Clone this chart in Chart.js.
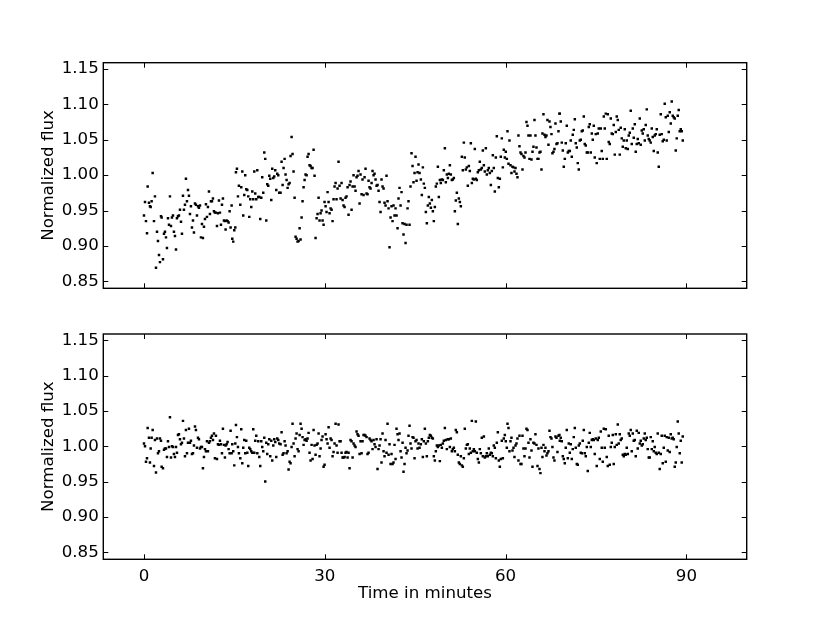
<!DOCTYPE html>
<html>
<head>
<meta charset="utf-8">
<script src="https://cdn.jsdelivr.net/npm/chart.js@4.4.1/dist/chart.umd.min.js"></script>
<style>
  html, body { margin: 0; padding: 0; background: #fff; }
  #wrap { position: relative; width: 830px; height: 623px; }
  canvas { position: absolute; left: 0; }
  #top { top: 0; }
  #bottom { top: 311px; }
</style>
</head>
<body>
<div id="wrap">
  <canvas id="top" width="830" height="311"></canvas>
  <canvas id="bottom" width="830" height="312"></canvas>
</div>
<script>
// time of each exposure, minutes
const minutes = [
  0.00,0.17,0.33,0.50,0.61,0.83,0.99,1.11,1.27,1.44,
  1.66,1.82,1.99,2.16,2.32,2.49,2.65,2.82,2.93,3.15,
  3.32,3.48,3.65,3.81,3.98,4.15,4.31,4.48,4.64,4.81,
  4.97,5.14,5.31,5.47,5.64,5.80,5.97,6.14,6.30,6.47,
  6.63,6.80,6.96,7.13,7.30,7.46,7.63,7.79,7.96,8.13,
  8.29,8.46,8.62,8.79,8.96,9.12,9.29,9.45,9.62,9.78,
  9.95,10.12,10.28,10.45,10.61,10.78,10.94,11.11,11.28,11.44,
  11.61,11.77,11.94,12.11,12.27,12.44,12.60,12.77,12.94,13.10,
  13.27,13.43,13.54,13.71,13.87,14.04,14.21,14.37,14.54,14.65,
  14.81,14.98,15.15,15.26,15.42,15.59,15.75,15.98,16.14,16.31,
  16.47,16.64,16.80,16.97,17.14,17.30,17.47,17.63,17.80,17.97,
  18.13,18.30,18.46,18.63,18.80,18.96,19.13,19.29,19.46,19.62,
  19.79,19.96,20.12,20.29,20.45,20.62,20.79,20.95,21.12,21.28,
  21.45,21.61,21.78,21.95,22.11,22.28,22.44,
  22.66,22.83,23.00,23.16,23.33,23.49,23.66,23.83,23.99,24.16,
  24.32,24.49,24.65,24.82,24.99,25.15,25.32,25.48,25.65,25.82,
  25.98,26.15,26.31,26.48,26.65,26.81,26.98,27.14,27.31,27.47,
  27.64,27.81,27.97,28.14,28.30,28.47,28.64,28.80,28.97,29.13,
  29.30,29.46,29.63,29.80,29.96,30.13,30.29,30.46,30.63,30.79,
  30.96,31.12,31.29,31.45,31.62,31.79,31.95,32.12,32.28,32.45,
  32.62,32.78,32.95,33.11,33.28,33.44,33.61,33.78,33.94,34.11,
  34.27,34.44,34.61,34.77,34.94,35.10,35.27,35.43,35.60,35.77,
  35.93,36.10,36.26,36.43,36.60,36.76,36.93,37.09,37.26,37.42,
  37.59,37.76,37.92,38.09,38.25,38.42,38.59,38.75,38.92,39.08,
  39.25,39.41,39.58,39.75,39.91,40.08,40.24,40.41,40.58,40.74,
  40.91,41.07,41.24,41.40,41.57,41.74,41.90,42.07,42.23,42.40,
  42.57,42.73,42.90,43.06,43.23,43.40,43.56,43.73,43.89,44.06,
  44.22,44.39,44.56,44.72,44.89,45.05,45.22,45.39,45.55,45.72,
  45.94,46.10,46.27,46.43,46.60,46.77,46.93,47.10,47.26,47.43,
  47.60,47.76,47.93,48.09,48.26,48.42,48.59,48.76,48.92,49.09,
  49.25,49.42,49.59,49.75,49.92,50.08,50.25,50.42,50.58,50.75,
  50.91,51.08,51.24,51.41,51.58,51.74,51.91,52.07,52.24,52.41,
  52.57,52.74,52.90,53.07,53.23,53.40,53.57,53.73,53.90,54.06,
  54.23,54.40,54.56,54.73,54.89,55.06,55.22,55.39,55.56,55.72,
  55.89,56.05,56.22,56.39,56.55,56.72,56.88,57.05,57.21,57.38,
  57.55,57.71,57.88,58.04,58.21,58.38,58.54,58.71,58.87,59.04,
  59.20,59.37,59.54,59.70,59.87,60.03,60.20,60.31,60.48,60.64,
  60.81,60.97,61.14,61.31,61.47,61.64,61.80,61.97,62.13,62.30,
  62.47,62.63,62.80,62.96,63.13,63.30,63.46,63.63,63.79,63.96,
  64.12,64.29,64.46,64.62,64.79,64.95,65.12,65.29,65.45,65.62,
  65.78,65.95,66.11,66.28,66.45,66.61,66.78,66.94,67.11,67.28,
  67.44,67.61,67.77,67.94,68.10,68.27,68.44,68.60,68.77,68.93,
  68.99,69.15,69.32,69.49,69.65,69.82,69.98,70.15,70.32,70.48,
  70.65,70.81,70.98,71.14,71.31,71.48,71.64,71.81,71.97,72.14,
  72.31,72.47,72.64,72.80,72.97,73.13,73.30,73.47,73.63,73.80,
  73.96,74.13,74.30,74.46,74.63,74.79,74.96,75.12,75.29,75.46,
  75.62,75.79,75.95,76.12,76.29,76.45,76.62,76.78,76.95,77.11,
  77.28,77.45,77.61,77.78,77.94,78.11,78.28,78.44,78.61,78.77,
  78.94,79.10,79.27,79.44,79.60,79.77,79.93,80.10,80.27,80.43,
  80.60,80.76,80.93,81.10,81.26,81.43,81.59,81.76,81.92,82.09,
  82.26,82.42,82.59,82.75,82.92,83.09,83.25,83.42,83.58,83.75,
  83.91,84.08,84.25,84.41,84.58,84.74,84.91,85.08,85.24,85.41,
  85.57,85.74,85.90,86.07,86.24,86.40,86.57,86.73,86.90,87.07,
  87.23,87.40,87.56,87.73,87.89,88.06,88.23,88.39,88.56,88.72,
  88.89,89.06,89.22,89.39
];

// upper panel: raw normalized flux
const fluxRaw = [
  0.943,0.962,0.935,0.918,0.984,0.961,0.956,0.955,0.963,1.003,
  0.935,0.970,0.869,0.920,0.907,0.887,0.877,0.942,0.940,0.881,
  0.917,0.920,0.912,0.897,0.939,0.930,0.970,0.928,0.940,0.943,
  0.920,0.914,0.895,0.939,0.942,0.943,0.951,0.934,0.917,0.971,
  0.951,0.958,0.995,0.963,0.979,0.971,0.945,0.956,0.926,0.936,
  0.919,0.960,0.958,0.943,0.956,0.954,0.957,0.912,0.931,0.911,
  0.927,0.938,0.959,0.941,0.955,0.977,0.945,0.963,0.963,0.967,
  0.949,0.947,0.947,0.928,0.946,0.964,0.947,0.930,0.958,0.967,
  0.936,0.935,0.923,0.936,0.935,0.933,0.949,0.926,0.957,0.910,
  0.906,0.922,0.926,1.004,1.009,0.970,0.985,0.958,0.983,1.005,
  0.943,0.972,1.000,0.980,0.979,0.970,0.941,0.966,0.955,0.977,
  0.966,1.005,0.974,0.966,1.007,0.969,0.969,0.938,0.968,0.997,
  0.975,1.032,1.023,0.936,0.987,0.985,0.999,0.995,0.965,1.009,
  0.996,0.998,1.007,0.979,1.002,1.000,0.975,
  0.975,1.019,0.986,1.010,1.023,1.001,0.993,0.982,0.987,0.989,
  1.027,1.054,1.030,1.005,0.968,0.913,0.910,0.906,0.907,0.925,
  0.909,0.940,0.963,0.983,0.993,1.001,1.000,1.026,1.030,1.014,
  1.013,1.010,1.010,1.036,0.999,0.911,0.939,0.945,0.968,0.936,
  0.946,0.950,0.936,0.930,0.962,0.956,0.948,0.976,0.962,0.946,
  0.953,0.951,0.935,0.966,0.984,0.989,0.966,0.981,1.019,0.985,
  0.967,0.989,0.965,0.957,0.955,0.968,0.970,0.983,0.944,0.986,
  0.991,0.951,0.984,1.000,0.984,0.978,0.997,0.999,1.006,0.960,
  1.001,0.973,0.994,0.972,0.997,1.009,0.974,0.973,0.992,0.983,
  0.981,0.989,1.006,1.000,1.002,0.994,0.985,0.986,0.978,0.962,
  0.948,0.994,0.984,0.981,0.961,0.957,0.999,0.963,0.953,0.898,
  0.940,0.956,0.935,0.957,0.943,0.953,0.943,0.925,0.967,0.982,
  0.957,0.976,0.932,0.916,0.931,0.904,0.930,0.953,0.963,0.930,
  0.984,1.031,1.013,0.990,1.003,1.026,0.992,1.004,1.015,1.003,
  0.994,0.972,1.011,0.988,0.982,0.948,0.932,0.957,0.969,0.960,
  0.954,0.965,0.949,0.935,0.955,0.984,0.988,1.012,0.969,0.993,
  0.989,0.994,0.993,1.007,1.038,0.990,1.001,0.996,1.002,1.014,
  1.001,0.993,0.994,0.996,0.949,0.964,0.975,0.931,0.967,0.962,
  0.956,1.026,1.007,1.046,1.025,1.008,1.011,0.985,1.013,1.006,
  1.045,0.989,0.995,0.994,1.037,0.995,0.993,1.004,1.007,1.019,
  1.008,1.010,1.035,1.014,1.005,1.038,1.001,1.007,1.010,1.003,
  0.986,1.006,1.028,1.010,0.977,1.025,1.055,0.996,0.983,0.995,
  1.026,1.052,1.011,1.036,1.025,1.033,1.023,1.062,1.016,1.049,
  1.014,1.003,1.012,1.011,1.005,1.010,1.002,0.997,1.056,1.041,
  1.032,1.030,1.008,1.027,1.025,1.032,1.075,1.070,1.056,1.023,
  1.056,1.022,1.033,1.040,1.078,1.056,1.039,1.023,1.023,1.032,
  1.033,1.008,1.059,1.086,1.057,1.054,1.056,1.078,1.043,1.076,
  1.068,1.058,1.031,1.033,1.037,1.073,1.044,1.045,1.062,1.087,
  1.087,1.076,1.046,1.035,1.012,1.023,1.045,1.070,1.032,1.034,
  1.034,1.049,1.026,1.057,1.064,1.079,1.045,1.039,1.017,1.008,
  1.049,1.050,1.062,1.063,1.083,1.044,1.042,1.032,1.032,1.068,
  1.072,1.032,1.059,1.050,1.070,1.025,1.058,1.017,1.059,1.066,
  1.023,1.066,1.034,1.023,1.083,1.066,1.087,1.023,1.086,1.047,
  1.044,1.080,1.059,1.058,1.071,1.029,1.061,1.083,1.078,1.064,
  1.029,1.067,1.052,1.040,1.049,1.065,1.038,1.049,1.037,1.056,
  1.060,1.091,1.044,1.066,1.053,1.072,1.033,1.044,1.051,1.045,
  1.080,1.043,1.063,1.059,1.065,1.049,1.071,1.093,1.056,1.051,
  1.049,1.046,1.066,1.054,1.034,1.056,1.058,1.065,1.032,1.012,
  1.057,1.086,1.058,1.048,1.050,1.101,1.082,1.049,1.084,1.061,
  1.089,1.073,1.104,1.084,1.082,1.080,1.035,1.052,1.084,1.092,
  1.062,1.065,1.062,1.049
];

// lower panel: detrended normalized flux
const fluxCorrected = [
  1.004,1.000,0.978,0.983,1.026,1.012,0.977,0.997,1.012,1.023,
  0.972,1.009,0.963,1.011,0.990,0.993,1.011,1.008,0.971,0.969,
  0.995,0.997,0.997,0.985,1.007,0.999,1.041,0.984,1.000,0.999,
  0.989,0.985,0.999,0.991,1.016,1.017,1.010,1.003,1.005,1.036,
  1.011,0.986,1.023,0.990,1.005,1.025,1.005,1.008,0.989,0.990,
  1.001,1.028,1.023,0.998,1.012,1.010,0.997,0.999,0.999,0.969,
  0.985,0.996,0.993,1.007,0.993,1.005,1.007,1.012,1.015,1.009,
  1.018,0.983,1.015,0.982,1.003,1.002,1.008,1.003,0.990,1.025,
  1.002,0.984,1.001,1.003,1.006,0.996,0.990,1.022,0.990,1.003,
  0.993,0.973,1.004,1.030,1.013,0.999,0.990,0.983,1.024,0.976,
  0.998,1.009,0.990,1.008,0.991,0.972,0.998,0.996,0.993,0.991,
  1.024,0.991,1.008,1.015,0.990,1.007,0.985,0.972,1.007,0.999,
  0.993,1.012,0.950,1.005,0.989,1.003,1.010,0.986,1.008,0.980,
  1.001,1.010,1.006,0.985,1.011,1.009,1.004,
  1.003,1.020,0.988,0.990,1.007,1.001,0.990,0.993,0.967,0.978,
  0.976,0.999,1.032,1.004,0.986,1.011,1.018,0.996,0.993,1.016,
  1.032,1.025,1.013,1.002,1.009,1.010,1.008,1.011,1.019,0.991,
  0.980,1.002,0.982,1.023,1.001,0.988,1.002,1.004,1.018,0.986,
  0.997,1.009,1.014,0.971,0.974,1.017,1.010,1.004,1.027,0.998,
  1.011,1.009,0.986,0.992,1.004,1.032,1.001,0.991,1.031,1.007,
  1.007,0.991,0.984,0.984,0.985,0.991,0.992,0.984,0.991,0.969,
  1.009,1.007,0.984,1.004,1.001,0.999,1.021,1.017,1.015,0.989,
  1.007,0.990,1.007,1.016,1.016,1.015,1.013,0.989,0.991,1.011,
  1.009,1.007,0.996,1.009,1.003,0.999,1.010,0.968,0.996,1.001,
  1.010,0.977,1.018,0.993,0.986,1.009,0.991,1.032,0.988,1.003,
  0.975,0.989,0.975,0.977,1.002,0.982,1.025,1.017,1.009,1.018,
  0.993,0.984,1.005,0.964,0.975,0.998,0.990,0.994,1.015,1.029,
  1.004,0.997,1.013,1.012,0.983,1.007,1.009,0.997,1.004,0.998,
  1.003,1.010,0.985,1.007,1.025,1.004,0.986,1.007,1.012,1.016,
  1.015,1.012,1.011,0.986,0.980,0.993,1.001,0.999,1.001,0.979,
  1.002,0.998,1.004,1.008,1.026,1.009,0.996,1.010,1.010,0.999,
  1.011,0.993,0.996,0.998,0.993,1.023,1.020,0.988,0.977,0.975,
  0.986,0.973,0.971,0.983,1.025,0.997,1.002,1.003,0.989,0.997,
  0.991,1.036,0.993,0.996,0.993,1.035,0.991,0.982,0.977,0.996,
  0.990,1.012,0.986,1.014,0.984,0.986,0.990,0.986,0.997,0.988,
  0.991,0.990,0.986,1.001,0.998,0.983,1.005,1.020,0.980,0.971,
  0.982,1.008,0.983,1.011,1.016,1.007,0.998,1.032,1.026,0.993,
  1.007,1.012,0.994,0.998,0.985,1.001,1.004,1.011,0.980,1.015,
  0.975,0.975,1.015,0.997,0.986,0.997,1.025,1.023,1.005,0.984,
  1.010,0.994,0.971,1.005,1.004,1.017,1.002,0.972,0.997,0.968,
  0.962,0.998,0.985,1.002,0.993,0.998,0.987,0.990,0.993,1.022,
  1.013,1.011,0.999,0.984,0.980,1.014,1.012,0.992,1.015,1.016,
  1.008,1.012,1.007,0.986,0.982,0.976,0.998,1.023,0.983,1.004,
  0.991,1.003,0.982,0.996,1.013,1.026,0.998,0.975,0.974,1.001,
  1.004,0.991,0.990,1.008,1.023,0.990,0.986,0.999,0.965,1.005,
  1.019,0.999,1.009,1.010,1.009,0.989,1.011,0.972,1.009,1.012,
  0.982,1.021,0.998,0.978,1.025,0.998,1.024,0.985,0.972,1.015,
  0.974,0.999,1.005,1.016,0.975,0.999,1.017,1.002,1.031,1.004,
  1.017,1.009,1.011,0.988,0.986,0.989,0.988,0.998,0.989,1.018,
  1.015,1.023,0.993,1.018,1.008,1.009,0.986,1.022,0.997,1.019,
  1.004,1.008,1.001,1.003,1.011,1.018,1.009,1.012,0.996,0.984,
  0.984,1.013,0.996,1.007,0.993,0.999,0.991,0.989,1.018,0.991,
  0.968,0.989,1.015,0.976,0.998,1.015,0.978,1.013,0.994,1.012,
  0.992,1.017,1.011,1.012,1.010,0.971,0.977,0.999,1.035,1.018,
  0.990,1.008,0.977,1.014
];

const xTickValues = [0, 30, 60, 90];
const yTickValues = [0.85, 0.90, 0.95, 1.00, 1.05, 1.10, 1.15];

Chart.defaults.font.family = "'DejaVu Sans', sans-serif";
Chart.defaults.font.size = 16.67;
Chart.defaults.color = '#000';

// matplotlib-style box with inward ticks on all four sides
const frameTicks = {
  id: 'frameTicks',
  afterDatasetsDraw(chart) {
    const { ctx, chartArea: a, scales: { x, y } } = chart;
    ctx.save();
    ctx.strokeStyle = '#000';
    ctx.lineWidth = 1;
    ctx.beginPath();
    x.ticks.forEach((t) => {
      const px = Math.round(x.getPixelForValue(t.value)) + 0.5;
      ctx.moveTo(px, a.bottom); ctx.lineTo(px, a.bottom - 5);
      ctx.moveTo(px, a.top); ctx.lineTo(px, a.top + 5);
    });
    y.ticks.forEach((t) => {
      const py = Math.round(y.getPixelForValue(t.value)) + 0.5;
      ctx.moveTo(a.left, py); ctx.lineTo(a.left + 5, py);
      ctx.moveTo(a.right, py); ctx.lineTo(a.right - 5, py);
    });
    ctx.stroke();
    ctx.lineWidth = 1.4;
    ctx.strokeRect(a.left, a.top, a.right - a.left, a.bottom - a.top);
    ctx.restore();
  },
};

function makePanel(canvasId, flux, isBottom) {
  const points = flux.map((f, i) => ({ x: minutes[i], y: f }));
  return new Chart(document.getElementById(canvasId), {
    type: 'scatter',
    data: {
      datasets: [{
        data: points,
        pointStyle: 'rect',
        pointRadius: 1.75,
        pointBorderWidth: 0,
        backgroundColor: '#000',
        borderColor: '#000',
      }],
    },
    options: {
      responsive: false,
      animation: false,
      devicePixelRatio: 1,
      layout: {
        padding: { top: isBottom ? 23 : 62.7, right: 83.3, bottom: 0, left: 0 },
      },
      plugins: { legend: { display: false }, tooltip: { enabled: false } },
      scales: {
        x: {
          type: 'linear',
          min: -6.75,
          max: 100,
          grid: { display: false, drawTicks: false },
          border: { display: false },
          afterBuildTicks: (scale) => { scale.ticks = xTickValues.map((v) => ({ value: v })); },
          afterFit: (scale) => { scale.height = isBottom ? 63.7 : 22.7; },
          ticks: {
            display: isBottom,
            padding: 7,
            autoSkip: false,
            maxRotation: 0,
            callback: (v) => String(v),
          },
          title: {
            display: isBottom,
            text: 'Time in minutes',
            padding: { top: 0, bottom: 19 },
          },
        },
        y: {
          min: 0.84,
          max: 1.159,
          grid: { display: false, drawTicks: false },
          border: { display: false },
          afterBuildTicks: (scale) => { scale.ticks = yTickValues.map((v) => ({ value: v })); },
          afterFit: (scale) => { scale.width = 103.3; },
          ticks: {
            padding: 4.5,
            autoSkip: false,
            callback: (v) => v.toFixed(2),
          },
          title: {
            display: true,
            text: 'Normalized flux',
            padding: { top: 38.5, bottom: 0 },
          },
        },
      },
    },
    plugins: [frameTicks],
  });
}

makePanel('top', fluxRaw, false);
makePanel('bottom', fluxCorrected, true);
</script>
</body>
</html>
